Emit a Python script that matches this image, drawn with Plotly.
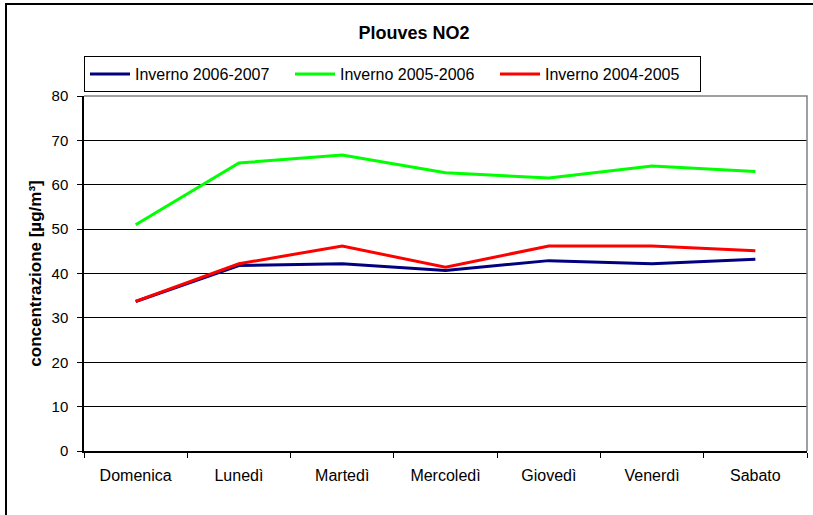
import plotly.graph_objects as go

categories = ["Domenica", "Lunedì", "Martedì", "Mercoledì", "Giovedì", "Venerdì", "Sabato"]
inverno_2006_2007 = [33.7, 41.8, 42.2, 40.7, 42.9, 42.2, 43.2]
inverno_2005_2006 = [51.0, 64.9, 66.7, 62.7, 61.5, 64.2, 63.0]
inverno_2004_2005 = [33.7, 42.2, 46.2, 41.4, 46.2, 46.2, 45.1]
series_names = ["Inverno 2006-2007", "Inverno 2005-2006", "Inverno 2004-2005"]
series_colors = ["#000080", "#00FF00", "#FF0000"]
y_ticks = [0, 10, 20, 30, 40, 50, 60, 70, 80]

W, H = 813, 515
ML, MR, MT, MB = 84, 6, 96, 64
PW, PH = W - ML - MR, H - MT - MB

def px_x(p):
    return (p - ML) / PW

def px_y(p):
    return (H - MB - p) / PH

fig = go.Figure()
for name, vals, col in zip(series_names, [inverno_2006_2007, inverno_2005_2006, inverno_2004_2005], series_colors):
    fig.add_trace(go.Scatter(x=categories, y=vals, mode="lines", name=name,
                             line=dict(color=col, width=3)))

font = "Liberation Sans, Arial, sans-serif"
frame_path = "M {l} {b} L {l} {t} L {r} {t}".format(l=px_x(6), b=px_y(560), t=px_y(4), r=px_x(900))
fig.update_layout(
    width=W, height=H,
    margin=dict(l=ML, r=MR, t=MT, b=MB, autoexpand=False),
    paper_bgcolor="white", plot_bgcolor="white",
    font=dict(family=font, color="black"),
    title=dict(text="<b>Plouves NO2</b>", xref="container", x=414 / W, xanchor="center",
               yref="container", y=1 - 33 / H, yanchor="middle", font=dict(size=18, family=font)),
    showlegend=True,
    legend=dict(orientation="h", x=0, xanchor="left", y=px_y(56), yanchor="top",
                bordercolor="black", borderwidth=1, bgcolor="white",
                font=dict(size=16, family=font), entrywidth=150, entrywidthmode="pixels",
                itemwidth=40, tracegroupgap=0),
    xaxis=dict(range=[-0.5, 6.5], type="category", showgrid=False, automargin=False,
               showline=True, linecolor="black", linewidth=1.5,
               ticks="outside", tickson="boundaries", ticklen=5, tickcolor="black",
               tickfont=dict(size=16, family=font), ticklabelstandoff=9),
    yaxis=dict(range=[0, 80], tickvals=y_ticks, showgrid=True, gridcolor="black", gridwidth=1,
               zeroline=False, showline=True, linecolor="black", linewidth=1.5, automargin=False,
               ticks="outside", ticklen=5, tickcolor="black",
               tickfont=dict(size=15, family=font), ticklabelstandoff=6,
               title=dict(text="<b>concentrazione [µg/m³]</b>", standoff=6,
                          font=dict(size=17, family=font))),
    shapes=[
        dict(type="path", xref="paper", yref="paper",
             path="M 0 1 L 1 1 L 1 0", line=dict(color="#808080", width=1.5), layer="above"),
        dict(type="path", xref="paper", yref="paper", path=frame_path,
             line=dict(color="black", width=2), layer="below"),
    ],
)

fig.write_html("out.html", config={"displayModeBar": False},
               post_script=("document.body.style.margin='0';document.body.style.overflow='hidden';"
                            "document.documentElement.style.overflow='hidden';"))
